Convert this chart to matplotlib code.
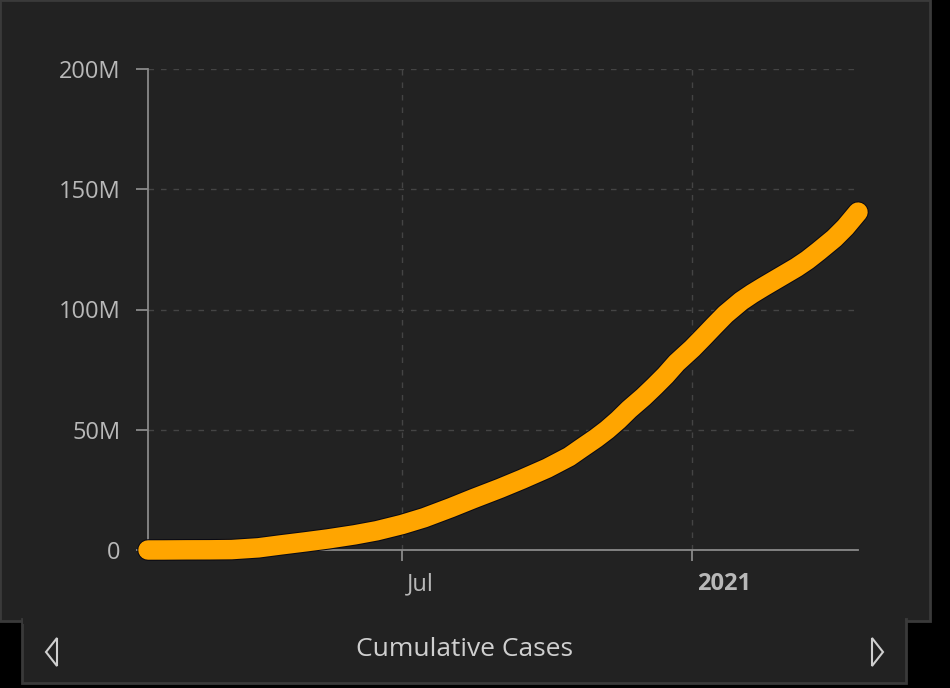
import matplotlib
matplotlib.use("Agg")
import matplotlib.pyplot as plt
import matplotlib.patheffects as pe
import matplotlib.transforms as mtransforms
from matplotlib.patches import Rectangle, Polygon
import numpy as np

# cumulative cases (millions)
dates = ["2020-01-22", "2020-02-01", "2020-02-15", "2020-03-01", "2020-03-15",
         "2020-04-01", "2020-04-15", "2020-05-01", "2020-05-15", "2020-06-01",
         "2020-06-15", "2020-07-01", "2020-07-15", "2020-08-01", "2020-08-15",
         "2020-09-01", "2020-09-15", "2020-10-01", "2020-10-15", "2020-10-22",
         "2020-11-01", "2020-11-08", "2020-11-15", "2020-11-22", "2020-12-01",
         "2020-12-08", "2020-12-15", "2020-12-22", "2021-01-01", "2021-01-08",
         "2021-01-15", "2021-01-22", "2021-02-01", "2021-02-08", "2021-02-15",
         "2021-02-22", "2021-03-01", "2021-03-08", "2021-03-15", "2021-03-22",
         "2021-04-01", "2021-04-08", "2021-04-16"]
cases_m = [0.0, 0.01, 0.07, 0.09, 0.17,
           0.9, 2.1, 3.4, 4.6, 6.3,
           8.0, 10.6, 13.4, 17.6, 21.3,
           25.6, 29.4, 34.0, 38.8, 42.0,
           46.5, 50.0, 54.0, 58.5, 63.6,
           68.0, 72.6, 77.8, 83.8, 88.5,
           93.3, 98.0, 103.5, 106.6, 109.4,
           112.1, 114.8, 117.5, 120.6, 124.2,
           129.6, 134.2, 140.5]
y_ticks = [0, 50e6, 100e6, 150e6, 200e6]
y_labels = ["0", "50M", "100M", "150M", "200M"]
x_ticks = ["2020-07-01", "2021-01-01"]
x_labels = ["Jul", "2021"]
title = "Cumulative Cases"

W, H = 950, 688
fig = plt.figure(figsize=(W / 100, H / 100), dpi=100, facecolor="black")


def fx(px):
    return px / W


def fy(py):
    return 1 - py / H


panel = "#222222"
edge = "#3a3a3a"

# main panel and bottom bar
fig.add_artist(Rectangle((fx(0), fy(621)), fx(930), 621 / H, transform=fig.transFigure,
                         facecolor=panel, edgecolor=edge, linewidth=2, zorder=0))
fig.add_artist(Rectangle((fx(22), fy(683)), fx(884), 64 / H, transform=fig.transFigure,
                         facecolor=panel, edgecolor=edge, linewidth=2, zorder=0))
fig.add_artist(Rectangle((fx(23), fy(624)), fx(882), 6 / H, transform=fig.transFigure,
                         facecolor=panel, edgecolor="none", zorder=0.5))

ax = fig.add_axes([fx(148), fy(550), fx(858 - 148), (550 - 69) / H])
ax.set_facecolor("none")

x = np.array(dates, dtype="datetime64[D]")
y = np.array(cases_m) * 1e6
ax.plot(x, y, color="#ffa500", linewidth=14, solid_capstyle="round",
        solid_joinstyle="round", clip_on=False, zorder=3,
        path_effects=[pe.Stroke(linewidth=15.5, foreground="#0a0a14"), pe.Normal()])

ax.set_xlim(x[0], x[-1])
ax.set_ylim(0, 200e6)

ax.set_yticks(y_ticks)
ax.set_yticklabels(y_labels)
xt = np.array(x_ticks, dtype="datetime64[D]")
ax.set_xticks(xt)
ax.set_xticklabels(x_labels)

for s in ["top", "right"]:
    ax.spines[s].set_visible(False)
for s in ["left", "bottom"]:
    ax.spines[s].set_color("#8a8a8a")
    ax.spines[s].set_linewidth(1.3)

ax.tick_params(axis="y", length=9, width=1.3, color="#8a8a8a", pad=11,
               labelsize=17, labelcolor="#b8b8b8")
ax.tick_params(axis="x", length=8, width=1.3, color="#8a8a8a", pad=8,
               labelsize=17, labelcolor="#b8b8b8")
for lab in ax.get_yticklabels() + ax.get_xticklabels():
    lab.set_fontfamily("Open Sans")
off = mtransforms.ScaledTranslation(5 / 100, 0, fig.dpi_scale_trans)
for lab in ax.get_xticklabels():
    lab.set_horizontalalignment("left")
    lab.set_transform(lab.get_transform() + off)
ax.get_xticklabels()[1].set_fontweight("bold")

ax.grid(True, color="#444444", linestyle=(0, (4, 5)), linewidth=1)

# bottom bar text and arrows
fig.text(fx(464), fy(649), title, ha="center", va="center", fontsize=19,
         color="#cfcfcf", family="Open Sans")
fig.add_artist(Polygon([(fx(57), fy(638)), (fx(46), fy(652)), (fx(57), fy(666))],
                       closed=True, fill=False, edgecolor="#cfcfcf", linewidth=1.5,
                       transform=fig.transFigure))
fig.add_artist(Polygon([(fx(872), fy(638)), (fx(883), fy(652)), (fx(872), fy(666))],
                       closed=True, fill=False, edgecolor="#cfcfcf", linewidth=1.5,
                       transform=fig.transFigure))

fig.savefig("out.png", dpi=100, facecolor=fig.get_facecolor())
